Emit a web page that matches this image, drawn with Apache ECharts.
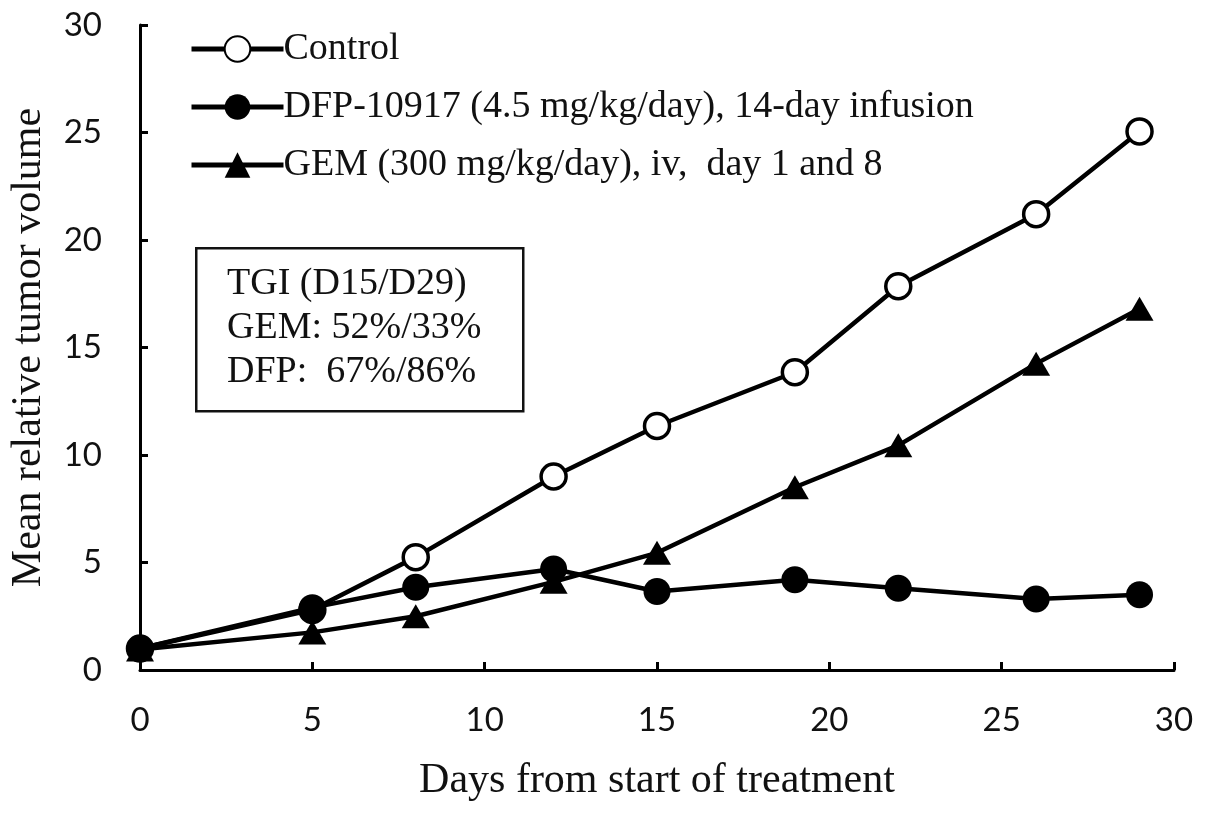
<!DOCTYPE html>
<html>
<head>
<meta charset="utf-8">
<script src="https://cdn.jsdelivr.net/npm/echarts@6/dist/echarts.min.js"></script>
<style>
  html, body { margin: 0; padding: 0; background: #fff; }
  #chart { width: 1205px; height: 816px; }
</style>
</head>
<body>
<div id="chart"></div>
<script>
var days = [0, 5, 8, 12, 15, 19, 22, 26, 29];
var controlValues = [1.0, 2.8, 5.25, 9.0, 11.35, 13.85, 17.85, 21.2, 25.05];
var dfpValues = [1.0, 2.9, 3.85, 4.7, 3.65, 4.2, 3.8, 3.3, 3.5];
var gemValues = [0.95, 1.75, 2.5, 4.1, 5.45, 8.5, 10.45, 14.25, 16.8];
var seriesNames = [
  'Control',
  'DFP-10917 (4.5 mg/kg/day), 14-day infusion',
  'GEM (300 mg/kg/day), iv,  day 1 and 8'
];
var tgiLines = ['TGI (D15/D29)', 'GEM: 52%/33%', 'DFP:  67%/86%'];

var SERIF = '"Liberation Serif", "Times New Roman", serif';
var SANS = 'Lato, "Open Sans", sans-serif';

function pairs(values) {
  return days.map(function (d, i) {
    return [d, values[i]];
  });
}

var chart = echarts.init(document.getElementById('chart'), null, { renderer: 'canvas' });

var axisCommon = {
  min: 0,
  max: 30,
  interval: 5,
  axisLine: { show: true, lineStyle: { color: '#000', width: 3 } },
  axisTick: { show: true, inside: true, length: 8, lineStyle: { color: '#000', width: 3 } },
  splitLine: { show: false },
  nameLocation: 'middle',
  nameTextStyle: { fontFamily: SERIF, fontSize: 42, color: '#111' },
  axisLabel: { fontFamily: SANS, fontSize: 33, color: '#111' }
};

var option = {
  backgroundColor: '#fff',
  animation: false,
  grid: { left: 138, right: 31, top: 25, bottom: 146, containLabel: false },
  legend: {
    orient: 'vertical',
    left: 184,
    top: 25,
    itemWidth: 92,
    itemHeight: 32,
    itemGap: 20,
    lineStyle: { color: '#000', width: 5 },
    textStyle: { fontFamily: SERIF, fontSize: 38, color: '#111', lineHeight: 37, padding: [0, 0, 0, -5] },
    data: seriesNames
  },
  xAxis: Object.assign({}, axisCommon, {
    type: 'value',
    name: 'Days from start of treatment',
    nameGap: 90,
    axisLabel: Object.assign({}, axisCommon.axisLabel, { margin: 34 })
  }),
  yAxis: Object.assign({}, axisCommon, {
    type: 'value',
    name: 'Mean relative tumor volume',
    nameGap: 90,
    axisLabel: Object.assign({}, axisCommon.axisLabel, { margin: 38 })
  }),
  graphic: [
    {
      type: 'rect',
      left: 195,
      top: 247,
      shape: { width: 327, height: 163 },
      style: { fill: '#fff', stroke: '#111', lineWidth: 2.5 },
      z: 1
    },
    {
      type: 'text',
      left: 227,
      top: 262,
      style: {
        text: tgiLines.join('\n'),
        font: '38px ' + SERIF,
        lineHeight: 44,
        fill: '#111'
      },
      z: 2
    }
  ],
  series: [
    {
      name: seriesNames[0],
      type: 'line',
      data: pairs(controlValues),
      symbol: 'circle',
      symbolSize: 25,
      lineStyle: { color: '#000', width: 4.5 },
      itemStyle: { color: '#fff', borderColor: '#000', borderWidth: 3.5 },
      z: 3
    },
    {
      name: seriesNames[1],
      type: 'line',
      data: pairs(dfpValues),
      symbol: 'circle',
      symbolSize: 27,
      lineStyle: { color: '#000', width: 4.5 },
      itemStyle: { color: '#000', borderColor: '#000', borderWidth: 0 },
      z: 4
    },
    {
      name: seriesNames[2],
      type: 'line',
      data: pairs(gemValues),
      symbol: 'triangle',
      symbolSize: [28, 24],
      lineStyle: { color: '#000', width: 4.5 },
      itemStyle: { color: '#000', borderColor: '#000', borderWidth: 0 },
      z: 5
    }
  ]
};

chart.setOption(option);
</script>
</body>
</html>
